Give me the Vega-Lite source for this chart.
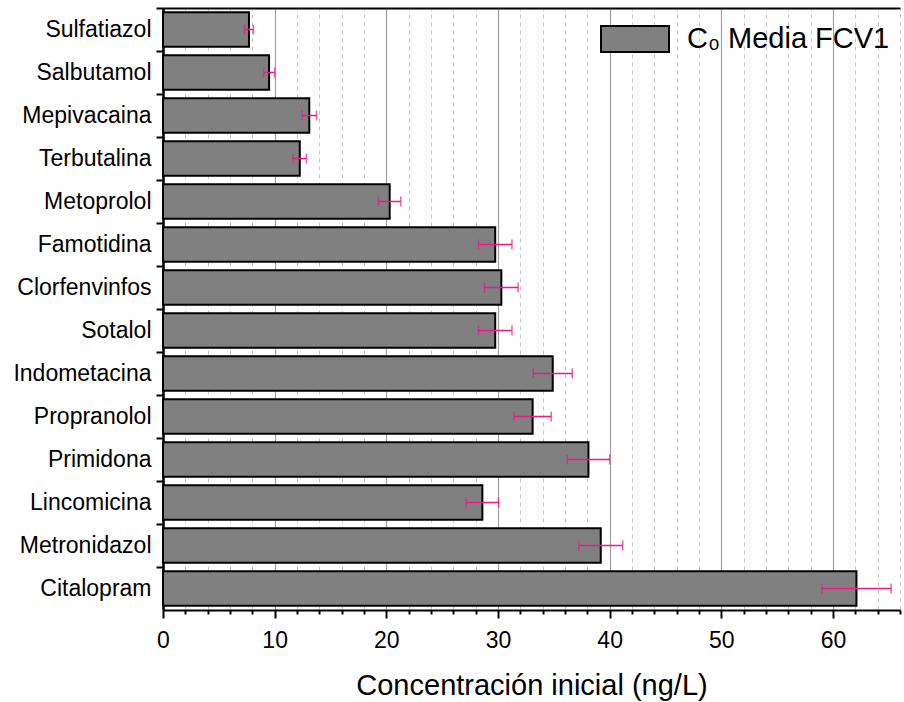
{
  "$schema": "https://vega.github.io/schema/vega-lite/v6.json",
  "autosize": "none",
  "width": 737,
  "height": 602,
  "padding": {"left": 163, "top": 8, "right": 4, "bottom": 92},
  "background": "white",
  "config": {
    "view": {"stroke": null},
    "font": "Liberation Sans",
    "axis": {"labelFont": "Liberation Sans", "titleFont": "Liberation Sans", "labelColor": "black", "titleColor": "black"}
  },
  "data": {
    "values": [
      {"name": "Sulfatiazol", "value": 7.7, "err": 0.4},
      {"name": "Salbutamol", "value": 9.5, "err": 0.5},
      {"name": "Mepivacaina", "value": 13.1, "err": 0.65},
      {"name": "Terbutalina", "value": 12.25, "err": 0.6},
      {"name": "Metoprolol", "value": 20.3, "err": 1.0},
      {"name": "Famotidina", "value": 29.75, "err": 1.5},
      {"name": "Clorfenvinfos", "value": 30.3, "err": 1.5},
      {"name": "Sotalol", "value": 29.75, "err": 1.5},
      {"name": "Indometacina", "value": 34.9, "err": 1.75},
      {"name": "Propranolol", "value": 33.1, "err": 1.66},
      {"name": "Primidona", "value": 38.1, "err": 1.9},
      {"name": "Lincomicina", "value": 28.6, "err": 1.45},
      {"name": "Metronidazol", "value": 39.2, "err": 1.97},
      {"name": "Citalopram", "value": 62.1, "err": 3.1}
    ]
  },
  "resolve": {"axis": {"x": "independent", "y": "independent"}},
  "layer": [
    {
      "mark": {"type": "bar", "opacity": 0, "height": {"band": 0.8}},
      "encoding": {
        "y": {
          "field": "name", "type": "nominal", "sort": null,
          "scale": {"paddingInner": 0, "paddingOuter": 0},
          "axis": {"orient": "left", "title": null, "labels": false, "domain": false, "ticks": true, "bandPosition": 0, "tickSize": 7, "tickWidth": 2, "tickColor": "black", "grid": false}
        },
        "x": {
          "field": "value", "type": "quantitative",
          "scale": {"domain": [0, 66], "nice": false, "zero": true},
          "axis": {
            "orient": "bottom",
            "values": [2, 4, 6, 8, 12, 14, 16, 18, 22, 24, 26, 28, 32, 34, 36, 38, 42, 44, 46, 48, 52, 54, 56, 58, 62, 64, 66],
            "title": null, "labels": false, "domain": false,
            "tickSize": 4, "tickWidth": 2, "tickColor": "black",
            "grid": true, "gridColor": "#c4c4c4", "gridWidth": 1, "gridDash": [4, 4]
          }
        }
      }
    },
    {
      "mark": {"type": "bar", "height": {"band": 0.8}, "stroke": "black", "strokeWidth": 2},
      "encoding": {
        "y": {
          "field": "name", "type": "nominal", "sort": null,
          "axis": {"orient": "left", "title": null, "ticks": false, "domain": true, "domainColor": "black", "domainWidth": 2.5, "labelFontSize": 23, "labelPadding": 12, "labelLimit": 0, "grid": false}
        },
        "x": {
          "field": "value", "type": "quantitative",
          "axis": {
            "orient": "bottom",
            "values": [0, 10, 20, 30, 40, 50, 60],
            "title": "Concentración inicial (ng/L)", "titleFontSize": 29, "titleFontWeight": "normal", "titlePadding": 19,
            "labelFontSize": 23, "labelPadding": 11, "labelFlush": false,
            "tickSize": 8, "tickWidth": 2, "tickColor": "black",
            "domainColor": "black", "domainWidth": 2,
            "grid": true, "gridColor": "#a0a0a0", "gridWidth": 1.2
          }
        },
        "color": {
          "datum": "C₀ Media FCV1", "type": "nominal",
          "scale": {"range": ["#808080"]},
          "legend": {
            "title": null, "orient": "none", "legendX": 437, "legendY": -4,
            "symbolType": "M-1,-0.382H1V0.382H-1Z", "symbolSize": 4624,
            "symbolStrokeColor": "black", "symbolStrokeWidth": 2, "symbolOpacity": 1,
            "labelFontSize": 29, "labelFont": "Liberation Sans", "labelColor": "black", "labelOffset": 17, "labelLimit": 0, "padding": 0
          }
        }
      }
    },
    {
      "mark": {"type": "errorbar", "color": "#ec1a84", "thickness": 1.5, "ticks": {"size": 10, "thickness": 1.5, "color": "#ec1a84"}},
      "encoding": {
        "y": {"field": "name", "type": "nominal", "sort": null, "axis": null},
        "x": {"field": "value", "type": "quantitative", "axis": null},
        "xError": {"field": "err"}
      }
    },
    {
      "mark": {"type": "bar", "opacity": 0, "height": {"band": 0.8}},
      "encoding": {
        "y": {"field": "name", "type": "nominal", "sort": null, "axis": null},
        "x": {
          "field": "value", "type": "quantitative",
          "axis": {"orient": "top", "title": null, "labels": false, "ticks": false, "grid": false, "domain": true, "domainColor": "black", "domainWidth": 2}
        }
      }
    }
  ]
}
